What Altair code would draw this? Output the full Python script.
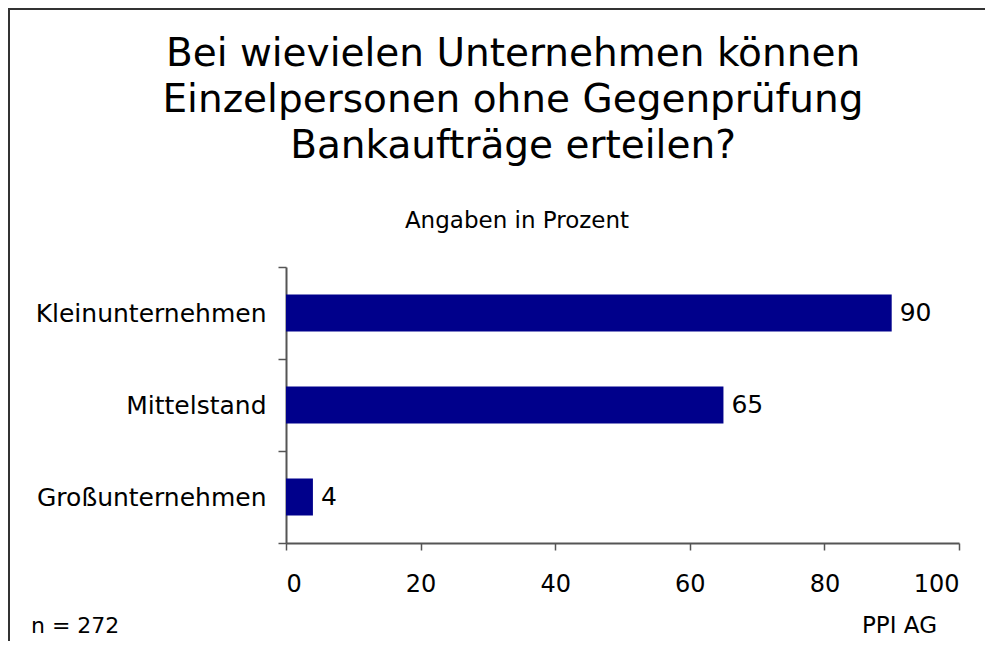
import altair as alt
import pandas as pd

categories = ["Kleinunternehmen", "Mittelstand", "Großunternehmen"]
values = [90, 65, 4]
x_ticks = [0, 20, 40, 60, 80, 100]
title_lines = ["Bei wievielen Unternehmen können", "Einzelpersonen ohne Gegenprüfung", "Bankaufträge erteilen?"]
subtitle = "Angaben in Prozent"
note_left = "n = 272"
note_right = "PPI AG"

df = pd.DataFrame({"cat": categories, "val": values})
FONT = "DejaVu Sans"

y_enc = alt.Y("cat:N", sort=categories, title=None,
              scale=alt.Scale(paddingInner=0, paddingOuter=0),
              axis=alt.Axis(tickBand="extent", labelFontSize=25, labelFont=FONT,
                            labelColor="black", labelPadding=12, tickSize=8, labelLimit=0,
                            domainColor="#555555", tickColor="#555555",
                            domainWidth=2, tickWidth=1.5))
x_enc = alt.X("val:Q", title=None,
              scale=alt.Scale(domain=[0, 100], nice=False),
              axis=alt.Axis(values=x_ticks, grid=False, labelFontSize=24, labelFont=FONT,
                            labelColor="black", labelPadding=22, tickSize=7,
                            domainColor="#555555", tickColor="#555555",
                            domainWidth=2, tickWidth=1.5))

bars = alt.Chart(df).mark_bar(color="#00008B", height=alt.RelativeBandSize(0.4)).encode(
    x=x_enc, y=y_enc)
labels = alt.Chart(df).mark_text(align="left", baseline="middle", dx=8, fontSize=25,
                                 font=FONT, color="black").encode(
    x="val:Q", y=alt.Y("cat:N", sort=categories), text="val:Q")


def text_layer(txt, x, y, size, align="center"):
    return alt.Chart(pd.DataFrame({"t": [txt]})).mark_text(
        align=align, baseline="alphabetic", fontSize=size, font=FONT, color="black").encode(
        x=alt.value(x), y=alt.value(y), text="t:N")


title_layers = [text_layer(line, 227, -201 + 46 * i, 39) for i, line in enumerate(title_lines)]
sub_layer = text_layer(subtitle, 231, -39, 23)
n_text = text_layer(note_left, -255, 366, 22, "left")
p_text = text_layer(note_right, 651, 366, 23, "right")

frame = alt.Chart(pd.DataFrame({"a": [0]})).mark_rect(
    fill=None, stroke="#333333", strokeWidth=2).encode(
    x=alt.value(-277), x2=alt.value(760), y=alt.value(-258), y2=alt.value(420))

chart = alt.layer(frame, bars, labels, *title_layers, sub_layer, n_text, p_text).properties(
    width=673, height=276,
    padding={"left": 278, "top": 259, "right": 26, "bottom": 98},
    autosize=alt.AutoSizeParams(type="none"),
).configure_view(stroke=None)

chart.save("out.html", embed_options={"renderer": "svg", "actions": False})
